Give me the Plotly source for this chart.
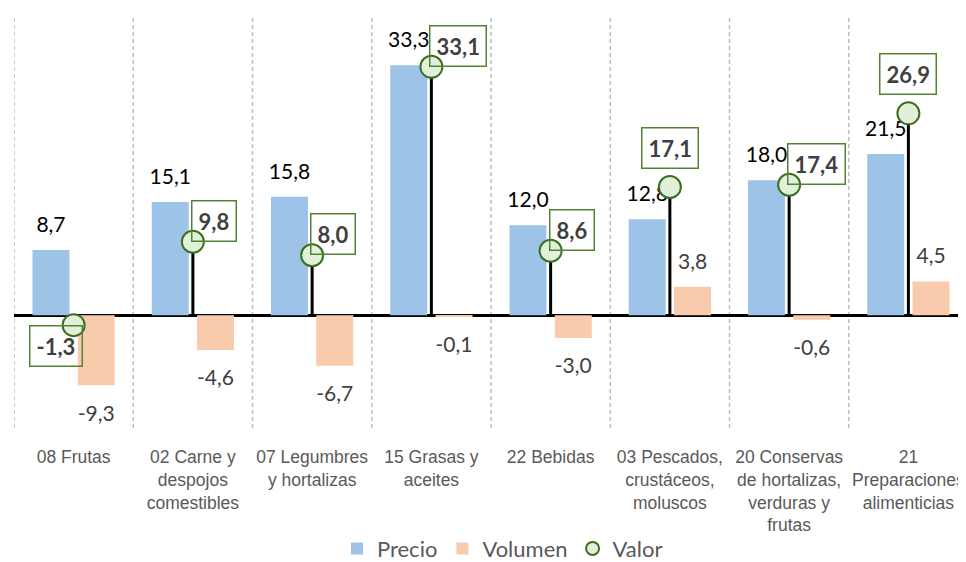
import plotly.graph_objects as go

# ---- data ----
categories = [
    "08 Frutas",
    "02 Carne y<br>despojos<br>comestibles",
    "07 Legumbres<br>y hortalizas",
    "15 Grasas y<br>aceites",
    "22 Bebidas",
    "03 Pescados,<br>crustáceos,<br>moluscos",
    "20 Conservas<br>de hortalizas,<br>verduras y<br>frutas",
    "21<br>Preparaciones<br>alimenticias",
]
precio = [8.7, 15.1, 15.8, 33.3, 12.0, 12.8, 18.0, 21.5]
volumen = [-9.3, -4.6, -6.7, -0.1, -3.0, 3.8, -0.6, 4.5]
valor = [-1.3, 9.8, 8.0, 33.1, 8.6, 17.1, 17.4, 26.9]

# ---- style ----
C_PRECIO = "#9DC3E6"
C_VOL = "#F8CBAD"
C_VAL_FILL = "#E2F0D9"
C_VAL_LINE = "#3B6E22"
C_BOX = "#548235"
LABEL_FONT = "Lato, 'Open Sans', sans-serif"
TICK_FONT = "'Liberation Sans', Arial, sans-serif"
BAR_W = 0.31
OFF_P = -0.345
OFF_V = 0.035
valor_label_pos = ["sw", "ne", "ne", "ne", "ne", "n", "ne", "n"]


def fmt(v):
    return f"{v:.1f}".replace(".", ",")


xs = list(range(len(categories)))

fig = go.Figure()

fig.add_trace(go.Bar(x=xs, y=precio, width=BAR_W, offset=OFF_P, name="Precio",
                     marker=dict(color=C_PRECIO, line=dict(width=0)), hoverinfo="skip"))
fig.add_trace(go.Bar(x=xs, y=volumen, width=BAR_W, offset=OFF_V, name="Volumen",
                     marker=dict(color=C_VOL, line=dict(width=0)), hoverinfo="skip"))

# data labels for bars (scatter text with invisible markers to set offset)
fig.add_trace(go.Scatter(
    x=[x + OFF_P + BAR_W / 2 for x in xs], y=precio, mode="markers+text",
    text=[fmt(v) for v in precio], textposition="top center",
    textfont=dict(family=LABEL_FONT, size=21, color="#000000"),
    marker=dict(size=18.5, opacity=0), showlegend=False, hoverinfo="skip", cliponaxis=False))
fig.add_trace(go.Scatter(
    x=[x + OFF_V + BAR_W / 2 for x in xs], y=volumen, mode="markers+text",
    text=[fmt(v) for v in volumen],
    textposition=["bottom center" if v < 0 else "top center" for v in volumen],
    textfont=dict(family=LABEL_FONT, size=21, color="#404040"),
    marker=dict(size=[30 if v < 0 else 19 for v in volumen], opacity=0),
    showlegend=False, hoverinfo="skip", cliponaxis=False))

# Valor: lollipop
fig.add_trace(go.Scatter(
    x=xs, y=valor, mode="markers", name="Valor", showlegend=False,
    marker=dict(size=22, color=C_VAL_FILL, line=dict(color=C_VAL_LINE, width=2)),
    error_y=dict(type="data", symmetric=False,
                 array=[max(-v, 0) for v in valor],
                 arrayminus=[max(v, 0) for v in valor],
                 color="black", thickness=3, width=0),
    hoverinfo="skip", cliponaxis=False))
# legend entry for Valor (smaller symbol, as in the reference legend)
fig.add_trace(go.Scatter(
    x=[None], y=[None], mode="markers", name="Valor",
    marker=dict(size=13, color=C_VAL_FILL, line=dict(color=C_VAL_LINE, width=2)),
    hoverinfo="skip"))

# Valor boxed labels
for x, v, pos in zip(xs, valor, valor_label_pos):
    if pos == "ne":
        kw = dict(xanchor="left", yanchor="bottom", xshift=-2, yshift=0)
    elif pos == "sw":
        kw = dict(xanchor="right", yanchor="top", xshift=9, yshift=0)
    else:
        kw = dict(xanchor="center", yanchor="bottom", xshift=0, yshift=18)
    fig.add_annotation(x=x, y=v, xref="x", yref="y", text=f"<b>{fmt(v)}</b>",
                       showarrow=False, font=dict(family=LABEL_FONT, size=22, color="#404040"),
                       bordercolor=C_BOX, borderwidth=1.5, borderpad=6, **kw)

# category separators
for x in xs:
    fig.add_shape(type="line", xref="x", yref="paper", x0=x - 0.5, x1=x - 0.5, y0=0, y1=1,
                  line=dict(color="#BDBDBD", width=1.5, dash="4px,3px"), layer="below")

fig.update_layout(
    width=966, height=562,
    margin=dict(l=6, r=6, t=7, b=142, autoexpand=False),
    plot_bgcolor="white", paper_bgcolor="white",
    barmode="overlay",
    showlegend=True,
    legend=dict(orientation="h", x=0.512, xanchor="center", y=-0.292, yanchor="middle",
                font=dict(family=LABEL_FONT, size=22, color="#595959"),
                traceorder="normal"),
    xaxis=dict(range=[-0.5, 7.5], tickmode="array", tickvals=xs, ticktext=categories,
               showgrid=False, zeroline=False, showline=False,
               ticks="outside", ticklen=13, tickcolor="rgba(0,0,0,0)",
               tickfont=dict(family=TICK_FONT, size=17.5, color="#595959")),
    yaxis=dict(range=[-15, 40], showgrid=False, showticklabels=False, ticks="",
               zeroline=True, zerolinecolor="black", zerolinewidth=3, showline=False),
)

fig.write_html("out.html")
